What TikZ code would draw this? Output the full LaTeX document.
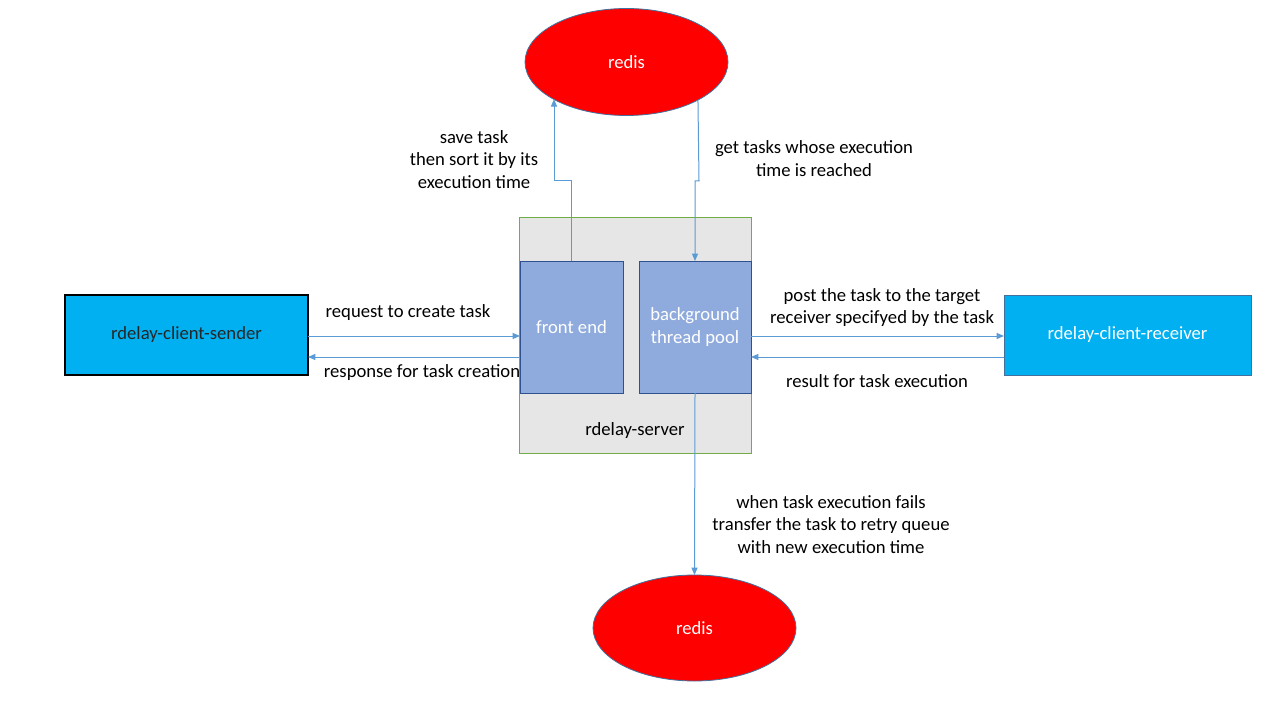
\documentclass[tikz,border=0pt]{standalone}
\usepackage{fontspec}
\setmainfont{Carlito}
\usetikzlibrary{arrows.meta,shapes.geometric}
\definecolor{cyanbox}{HTML}{00B0F0}
\definecolor{redisred}{HTML}{FF0000}
\definecolor{edgeblue}{HTML}{41719C}
\definecolor{srvfill}{HTML}{E6E6E6}
\definecolor{srvedge}{HTML}{70AD47}
\definecolor{innerfill}{HTML}{8FAADC}
\definecolor{inneredge}{HTML}{2F528F}
\definecolor{arrblue}{HTML}{5B9BD5}
\tikzset{
  x=0.75pt, y=-0.75pt,
  every node/.style={font=\fontsize{14}{16.9}\selectfont, inner sep=0pt, outer sep=0pt},
  client/.style={rectangle, fill=cyanbox, minimum height=60pt},
  redisnode/.style={ellipse, fill=redisred, draw=edgeblue, line width=0.6pt, text=white},
  inner/.style={rectangle, fill=innerfill, draw=inneredge, line width=0.75pt, text=white, align=center, minimum height=99pt},
  arr/.style={draw=arrblue, line width=0.75pt, -{Triangle[length=5.5pt,width=4.5pt]}},
  lbl/.style={align=center, text=black}
}
\begin{document}
\begin{tikzpicture}
\useasboundingbox[fill=white] (0,0) rectangle (1280,720);
% server container
\node[rectangle, fill=srvfill, draw=srvedge, line width=0.75pt, minimum width=174pt, minimum height=176.25pt] (server) at (635,335.5) {};
\node[lbl] (srvlbl) at (635,431) {rdelay-server};
\node[inner, minimum width=77.25pt] (fe) at (571.5,327) {front end};
\node[inner, minimum width=84pt] (bg) at (695,327) {background\\thread pool};
% clients
\node[client, draw=black, line width=0.9pt, minimum width=182.25pt, text=black!85] (sender) at (186.5,335) {rdelay-client-sender};
\node[client, draw=edgeblue, line width=0.75pt, minimum width=185.25pt, text=white] (receiver) at (1127.5,335) {rdelay-client-receiver};
% redis
\node[redisnode, minimum width=152.25pt, minimum height=80.25pt] (redis1) at (626.5,62) {redis};
\node[redisnode, minimum width=152.25pt, minimum height=79.5pt] (redis2) at (694.5,628) {redis};
% connectors
\draw[arr] (sender.east |- 0,336) -- (fe.west |- 0,336);
\draw[arr] (fe.west |- 0,357) -- (sender.east |- 0,357);
\draw[arr] (bg.east |- 0,336) -- (receiver.west |- 0,336);
\draw[arr] (receiver.west |- 0,357) -- (bg.east |- 0,357);
\coordinate (s1) at (571.5,181);
\coordinate (s2) at (554,181);
\draw[arr] (fe.north) -- (s1) -- (s2) -- (s2 |- redis1.207.3);
\coordinate (g1) at (699,181);
\coordinate (g2) at (695,181);
\draw[arr] (redis1.332.7) -- (g1) -- (g2) -- (bg.north);
\draw[arr] (bg.south) -- (redis2.north);
% labels
\node[lbl] (l1) at (408,313) {request to create task};
\node[lbl] (l2) at (422,373) {response for task creation};
\node[lbl] (l3) at (882,307.5) {post the task to the target\\receiver specifyed by the task};
\node[lbl] (l4) at (877,381) {result for task execution};
\node[lbl] (l5) at (474,159.5) {save task\\then sort it by its\\execution time};
\node[lbl] (l6) at (814,158.5) {get tasks whose execution\\time is reached};
\node[lbl] (l7) at (831,524.5) {when task execution fails\\transfer the task to retry queue\\with new execution time};
\end{tikzpicture}
\end{document}
